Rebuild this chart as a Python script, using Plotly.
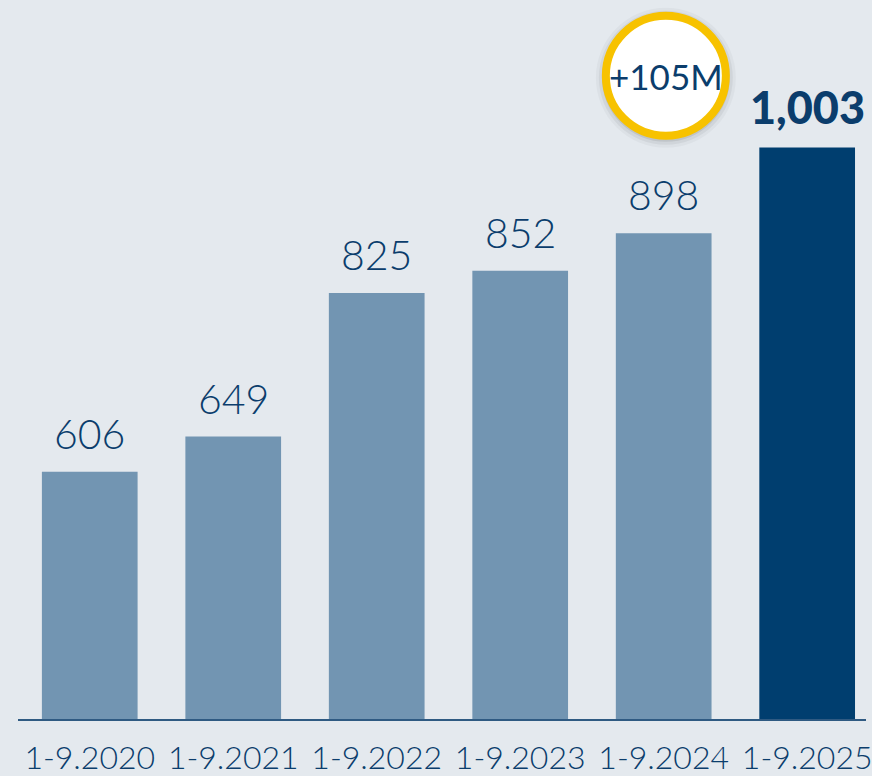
import plotly.graph_objects as go

periods = ['1-9.2020', '1-9.2021', '1-9.2022', '1-9.2023', '1-9.2024', '1-9.2025']
values = [606, 649, 825, 852, 898, 1003]
value_labels = ['606', '649', '825', '852', '898', '1,003']
growth_label = '+105M'

BG = '#e4e9ee'
LIGHT = '#7295b2'
DARK = '#003e6f'
NAVY = '#0b3d6c'
FONT = 'Lato'

colors = [LIGHT] * (len(values) - 1) + [DARK]

fig = go.Figure(go.Bar(
    x=periods,
    y=values,
    marker=dict(color=colors, line=dict(width=0)),
    width=0.667,
    hoverinfo='skip',
))

# value labels above the bars, last one bold
for i, (p, v, t) in enumerate(zip(periods, values, value_labels)):
    last = i == len(values) - 1
    fig.add_annotation(
        x=p, y=v, text=t, showarrow=False,
        yanchor='bottom', yshift=12,
        font=dict(family=FONT, size=45 if last else 41, color=NAVY,
                  weight=900 if last else 300),
    )

# growth badge over the 2024 bar (soft shadow, then the ring)
bx, by = 4.015, 1091
for r, a in [(70, 0.03), (67, 0.05), (64, 0.08)]:
    fig.add_shape(type='circle', xref='x', yref='y', xsizemode='pixel', ysizemode='pixel',
                  xanchor=bx, yanchor=by, x0=-r, x1=r, y0=-r - 2, y1=r - 2,
                  fillcolor='rgba(0,0,0,%s)' % a, line=dict(width=0), layer='above')
fig.add_shape(type='circle', xref='x', yref='y', xsizemode='pixel', ysizemode='pixel',
              xanchor=bx, yanchor=by, x0=-60, x1=60, y0=-60, y1=60,
              fillcolor='white', line=dict(color='#f7c200', width=8), layer='above')
fig.add_annotation(x=bx, y=by, text=growth_label, showarrow=False,
                   yanchor='middle', font=dict(family=FONT, size=35, color=NAVY, weight=400))

fig.update_layout(
    width=872, height=776,
    margin=dict(l=18, r=0, t=0, b=55),
    paper_bgcolor=BG, plot_bgcolor=BG,
    showlegend=False,
    bargap=0.333,
    xaxis=dict(range=[-0.5, 5.41], showline=True, linecolor='#2f5a82', linewidth=1.5,
               showgrid=False, zeroline=False, ticks='', ticklabelstandoff=10,
               tickfont=dict(family=FONT, size=32, color=NAVY, weight=300)),
    yaxis=dict(range=[303, 1183.8], visible=False, showgrid=False, zeroline=False),
)

fig.write_html('out.html', config={'displayModeBar': False},
               post_script="document.body.style.margin='0';document.body.style.background='%s';" % BG)
